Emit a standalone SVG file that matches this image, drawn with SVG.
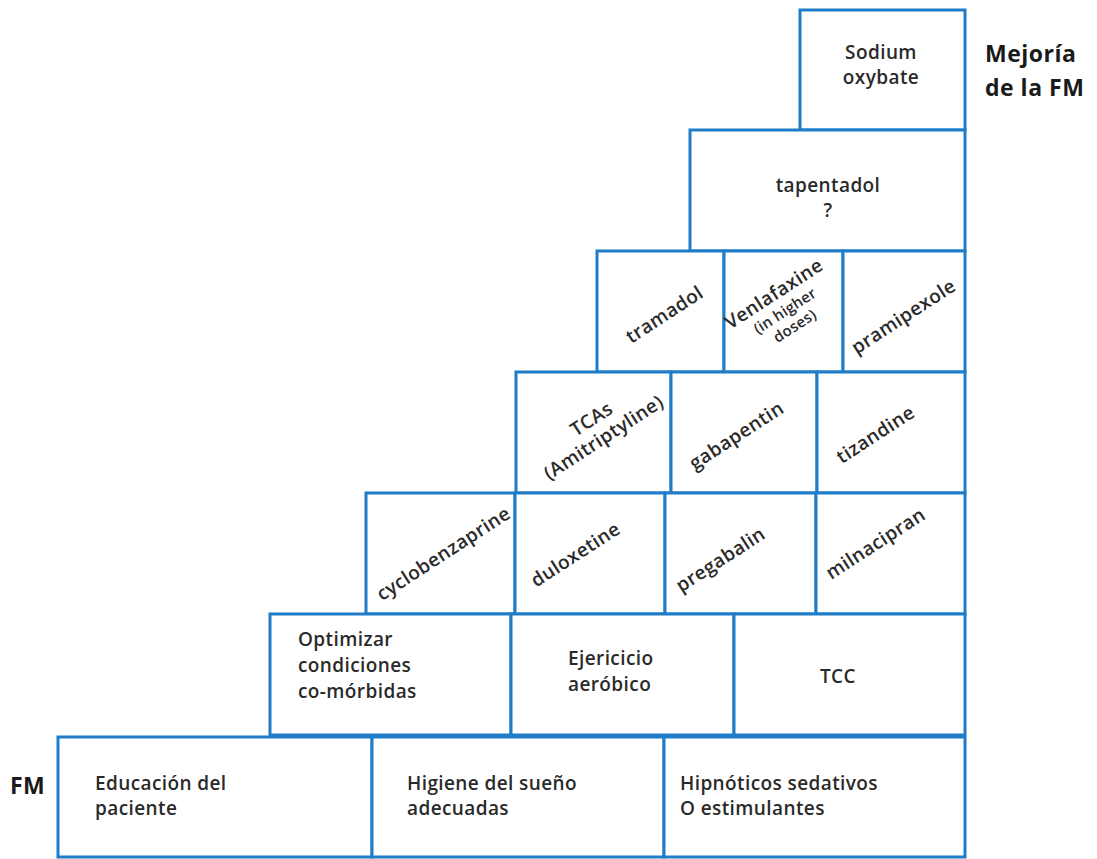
<svg xmlns="http://www.w3.org/2000/svg" width="1097" height="859" viewBox="0 0 1097 859">
<style>
.b{fill:#fff;stroke:#1e7cc8;stroke-width:3}
.t{font-family:"Open Sans",Lato,sans-serif;font-weight:600;font-size:19px;letter-spacing:0.4px;fill:#2a2a2a}
.s{font-size:15px;letter-spacing:0.2px}
.m{text-anchor:middle}
.lab{font-family:"Open Sans",Lato,sans-serif;font-weight:bold;font-size:23px;letter-spacing:0.5px;fill:#1a1a1a}
</style>
<rect width="1097" height="859" fill="#fff"/>
<g id="n-sodium"><rect class="b" x="800" y="10" width="165" height="120"/><text class="t m" x="881" y="59">Sodium</text><text class="t m" x="881" y="84">oxybate</text></g>
<g id="n-tapentadol"><rect class="b" x="690" y="130" width="275" height="121"/><text class="t m" x="828" y="192">tapentadol</text><text class="t m" x="828" y="217">?</text></g>
<g id="n-tramadol"><rect class="b" x="597" y="251" width="127" height="121"/><text class="t m" transform="translate(668,320) rotate(-33)">tramadol</text></g>
<g id="n-venlafaxine"><rect class="b" x="724" y="251" width="119" height="121"/><g transform="translate(785,311) rotate(-33)"><text class="t m" x="0" y="-14">Venlafaxine</text><text class="t s m" x="0" y="5">(in higher</text><text class="t s m" x="0" y="23">doses)</text></g></g>
<g id="n-pramipexole"><rect class="b" x="843" y="251" width="122" height="121"/><text class="t m" transform="translate(907,322) rotate(-33)">pramipexole</text></g>
<g id="n-tcas"><rect class="b" x="516" y="372" width="155" height="121"/><g transform="translate(600,432) rotate(-33)"><text class="t m" x="0" y="-9">TCAs</text><text class="t m" x="0" y="13">(Amitriptyline)</text></g></g>
<g id="n-gabapentin"><rect class="b" x="671" y="372" width="146" height="121"/><text class="t m" transform="translate(740,441) rotate(-33)">gabapentin</text></g>
<g id="n-tizandine"><rect class="b" x="817" y="372" width="148" height="121"/><text class="t m" transform="translate(879,440) rotate(-33)">tizandine</text></g>
<g id="n-cyclobenzaprine"><rect class="b" x="366" y="493" width="149" height="121"/><text class="t m" transform="translate(447,559) rotate(-33)">cyclobenzaprine</text></g>
<g id="n-duloxetine"><rect class="b" x="515" y="493" width="150" height="121"/><text class="t m" transform="translate(579,560) rotate(-33)">duloxetine</text></g>
<g id="n-pregabalin"><rect class="b" x="665" y="493" width="151" height="121"/><text class="t m" transform="translate(724,565) rotate(-33)">pregabalin</text></g>
<g id="n-milnacipran"><rect class="b" x="816" y="493" width="149" height="121"/><text class="t m" transform="translate(879,549) rotate(-33)">milnacipran</text></g>
<g id="n-optimizar"><rect class="b" x="270" y="614" width="241" height="121"/><text class="t" x="298" y="646">Optimizar</text><text class="t" x="298" y="672">condiciones</text><text class="t" x="298" y="698">co-mórbidas</text></g>
<g id="n-ejercicio"><rect class="b" x="511" y="614" width="223" height="121"/><text class="t" x="568" y="665">Ejericicio</text><text class="t" x="568" y="691">aeróbico</text></g>
<g id="n-tcc"><rect class="b" x="734" y="614" width="231" height="121"/><text class="t m" x="838" y="683">TCC</text></g>
<g id="n-educacion"><rect class="b" x="58" y="737" width="314" height="120"/><text class="t" x="95" y="790">Educación del</text><text class="t" x="95" y="815">paciente</text></g>
<g id="n-higiene"><rect class="b" x="372" y="737" width="292" height="120"/><text class="t" x="407" y="790">Higiene del sueño</text><text class="t" x="407" y="815">adecuadas</text></g>
<g id="n-hipnoticos"><rect class="b" x="664" y="737" width="301" height="120"/><text class="t" x="680" y="790">Hipnóticos sedativos</text><text class="t" x="680" y="815">O estimulantes</text></g>
<g id="labels"><text class="lab" x="985" y="62">Mejoría</text><text class="lab" x="985" y="96">de la FM</text><text class="lab" x="10" y="794">FM</text></g>
<g id="connectors"></g>
</svg>
